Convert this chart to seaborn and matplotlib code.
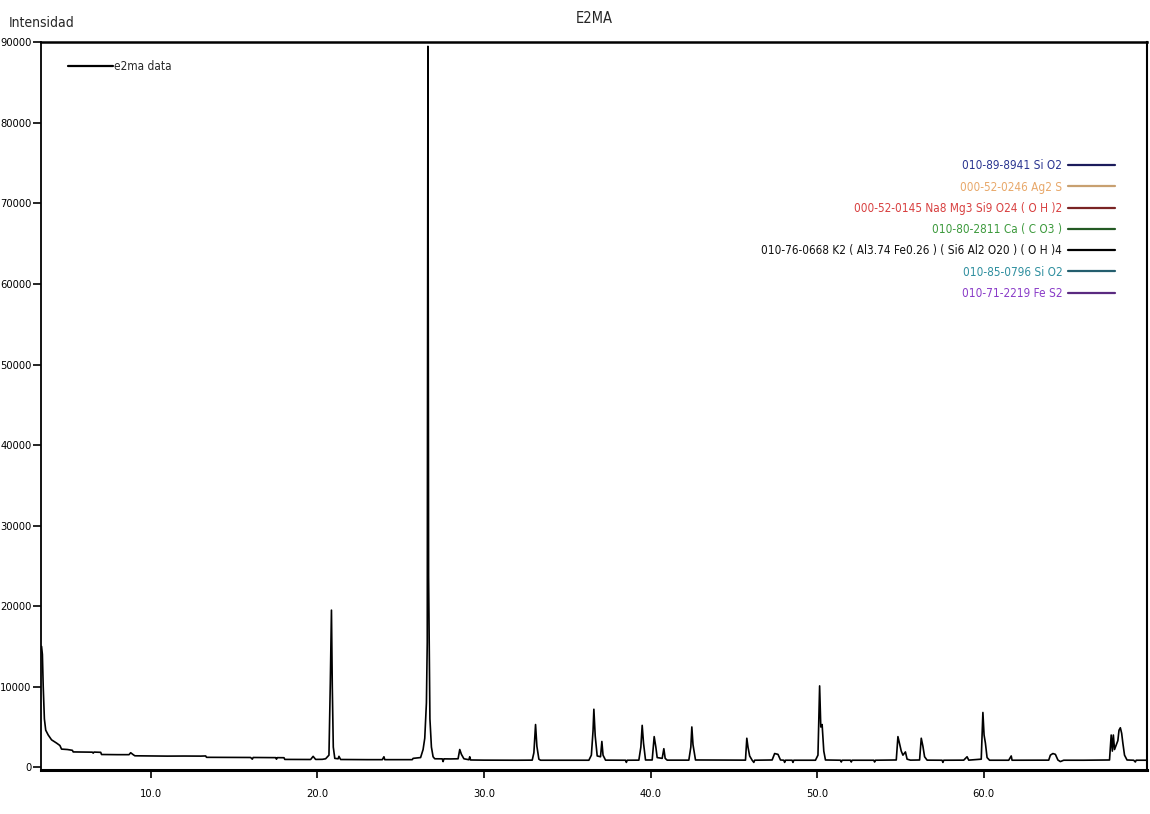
import matplotlib
matplotlib.use("Agg")
import matplotlib.pyplot as plt
from matplotlib import font_manager
from matplotlib.lines import Line2D
from matplotlib.ticker import FormatStrFormatter, MultipleLocator
import seaborn as sns
import pandas as pd

# Diffractogram of sample E2MA: 2-theta (degrees) and counts
two_theta = [
    3.45, 3.50, 3.55, 3.62, 3.70, 3.85, 4.05, 4.35, 4.55, 4.65,
    5.00, 5.30, 5.35, 6.00, 6.50, 6.55, 6.60, 7.00, 7.05, 8.00,
    8.70, 8.80, 8.95, 9.05, 10.0, 11.0, 12.0, 13.0, 13.30, 13.35,
    15.0, 16.0, 16.10, 16.15, 17.0, 17.5, 17.55, 17.6, 18.0, 18.05,
    19.6, 19.75, 19.9, 20.3, 20.5, 20.7, 20.78, 20.85, 20.9, 20.96,
    21.05, 21.25, 21.3, 21.4, 22.0, 23.0, 23.9, 24.0, 24.05, 25.7,
    25.75, 26.2, 26.35, 26.45, 26.55, 26.6, 26.64, 26.68, 26.72, 26.76,
    26.85, 26.95, 27.05, 27.5, 27.55, 27.6, 28.0, 28.45, 28.55, 28.65,
    28.8, 29.1, 29.15, 29.2, 30.0, 31.0, 32.0, 32.9, 33.0, 33.1,
    33.18, 33.3, 33.4, 34.5, 36.3, 36.45, 36.55, 36.6, 36.68, 36.8,
    37.0, 37.08, 37.15, 37.3, 38.5, 38.55, 38.6, 39.3, 39.42, 39.5,
    39.58, 39.7, 40.1, 40.22, 40.32, 40.4, 40.7, 40.8, 40.88, 41.0,
    42.3, 42.42, 42.48, 42.55, 42.7, 45.7, 45.78, 45.85, 45.95, 46.1,
    46.2, 46.25, 47.3, 47.45, 47.65, 47.8, 48.0, 48.05, 48.1, 48.5,
    48.55, 48.6, 49.9, 50.05, 50.15, 50.22, 50.3, 50.4, 50.5, 51.4,
    51.45, 51.5, 52.0, 52.05, 52.1, 53.4, 53.45, 53.5, 54.75, 54.85,
    54.95, 55.05, 55.15, 55.3, 55.4, 55.6, 56.15, 56.25, 56.35, 56.45,
    56.6, 57.5, 57.55, 57.6, 58.8, 59.0, 59.1, 59.85, 59.95, 60.02,
    60.1, 60.2, 60.35, 61.5, 61.65, 61.7, 63.9, 64.0, 64.15, 64.3,
    64.45, 64.6, 64.8, 66.0, 67.55, 67.65, 67.72, 67.78, 67.85, 68.05,
    68.12, 68.2, 68.28, 68.35, 68.45, 68.6, 69.0, 69.1, 69.15, 69.8,
]
counts = [
    15000, 14000, 10000, 6000, 4600, 4000, 3400, 3000, 2700, 2250,
    2200, 2100, 1900, 1880, 1870, 1750, 1880, 1850, 1580, 1560,
    1560, 1800, 1560, 1420, 1400, 1380, 1390, 1380, 1400, 1230,
    1220, 1210, 1000, 1210, 1200, 1190, 1000, 1190, 1180, 970,
    960, 1350, 970, 980, 1050, 1500, 10300, 19500, 10000, 2500,
    1100, 1050, 1350, 960, 950, 940, 940, 1300, 940, 940,
    1100, 1200, 2200, 3600, 8000, 15500, 89500, 23700, 15000, 6000,
    2500, 1300, 1050, 1040, 700, 1040, 1030, 1050, 2200, 1600,
    1050, 930, 1300, 900, 880, 870, 870, 880, 1800, 5300,
    2600, 1000, 870, 870, 870, 1500, 4500, 7200, 3900, 1400,
    1300, 3200, 1500, 880, 870, 600, 870, 880, 2500, 5200,
    3000, 900, 900, 3800, 2500, 1200, 1100, 2300, 1100, 880,
    880, 2500, 5000, 2800, 900, 880, 3600, 2500, 1400, 870,
    600, 870, 900, 1700, 1600, 900, 870, 600, 870, 870,
    600, 870, 870, 1500, 10100, 5000, 5300, 2000, 900, 870,
    650, 870, 870, 650, 870, 870, 650, 870, 900, 3800,
    2900, 2000, 1500, 1900, 1000, 880, 900, 3600, 2600, 1300,
    880, 870, 600, 870, 880, 1300, 880, 1000, 6800, 4000,
    3000, 1200, 870, 870, 1400, 870, 880, 1500, 1700, 1600,
    900, 700, 870, 870, 900, 4000, 2000, 4000, 2200, 3300,
    4600, 4900, 4200, 3000, 1500, 900, 870, 650, 870, 870,
]

# Reference phases identified in the pattern
phase_labels = [
    "010-89-8941 Si O2",
    "000-52-0246 Ag2 S",
    "000-52-0145 Na8 Mg3 Si9 O24 ( O H )2",
    "010-80-2811 Ca ( C O3 )",
    "010-76-0668 K2 ( Al3.74 Fe0.26 ) ( Si6 Al2 O20 ) ( O H )4",
    "010-85-0796 Si O2",
    "010-71-2219 Fe S2",
]
phase_text_colors = ["#2a3590", "#e8a86a", "#d84040", "#3d9a3d", "#111111", "#2f8f9f", "#8a3cc8"]
phase_line_colors = ["#1c1c5c", "#c8a070", "#7a2424", "#245a24", "#000000", "#245e6e", "#5a2a80"]

y_ticks = [0, 10000, 20000, 30000, 40000, 50000, 60000, 70000, 80000, 90000]

sns.set_style("ticks")

# Prefer a narrow sans face when one is available
fonts = font_manager.fontManager.ttflist
names = {f.name for f in fonts}
stretch = "normal"
if "Liberation Sans Narrow" in names:
    family, tick_size = "Liberation Sans Narrow", 8.5
elif any(f.name == "DejaVu Sans" and "condensed" in str(f.stretch) for f in fonts):
    family, tick_size, stretch = "DejaVu Sans", 8, "condensed"
else:
    family, tick_size = "Liberation Sans", 7.8
plt.rcParams["font.family"] = [family, "DejaVu Sans"]
plt.rcParams["font.stretch"] = stretch

fig = plt.figure(figsize=(11.5, 8.14), dpi=100)
ax = fig.add_axes([0.0357, 0.0535, 0.9617, 0.8945])

df = pd.DataFrame({"2theta": two_theta, "counts": counts})
sns.lineplot(data=df, x="2theta", y="counts", color="black", lw=1.2,
             ax=ax, estimator=None, sort=False, legend=False)

ax.set_xlim(3.42, 69.8)
ax.set_ylim(-400, 90000)
ax.set_yticks(y_ticks)
ax.xaxis.set_major_locator(MultipleLocator(10))
ax.xaxis.set_major_formatter(FormatStrFormatter("%.1f"))
ax.yaxis.set_major_formatter(FormatStrFormatter("%d"))
ax.tick_params(axis="both", direction="out", length=6, width=1.2,
               labelsize=tick_size, colors="black")
ax.tick_params(axis="y", pad=1)
ax.tick_params(axis="x", pad=7)
ax.set_xlabel("")
ax.set_ylabel("Intensidad", rotation=0, ha="left", va="center", fontsize=10)
ax.yaxis.set_label_coords(-0.029, 1.026)
ax.set_title("E2MA", fontsize=10.5, pad=14)

for side, w in {"top": 1.8, "left": 1.3, "bottom": 2.2, "right": 1.5}.items():
    ax.spines[side].set_visible(True)
    ax.spines[side].set_linewidth(w)
    ax.spines[side].set_color("black")

# Sample legend, top left
data_handle = [Line2D([], [], color="black", lw=1.6)]
leg1 = ax.legend(data_handle, ["e2ma data"], loc="upper left",
                 bbox_to_anchor=(0.015, 0.99), frameon=False, fontsize=8.5,
                 handlelength=3.8, handletextpad=0.05)
ax.add_artist(leg1)

# Phase legend, top right: label then line
phase_handles = [Line2D([], [], color=c, lw=1.6) for c in phase_line_colors]
leg2 = ax.legend(phase_handles, phase_labels, loc="upper right",
                 bbox_to_anchor=(0.981, 0.854), frameon=False, fontsize=8.5,
                 markerfirst=False, handlelength=4.0, handletextpad=0.5,
                 labelspacing=0.7, labelcolor=phase_text_colors)

fig.savefig("out.png", dpi=100)
